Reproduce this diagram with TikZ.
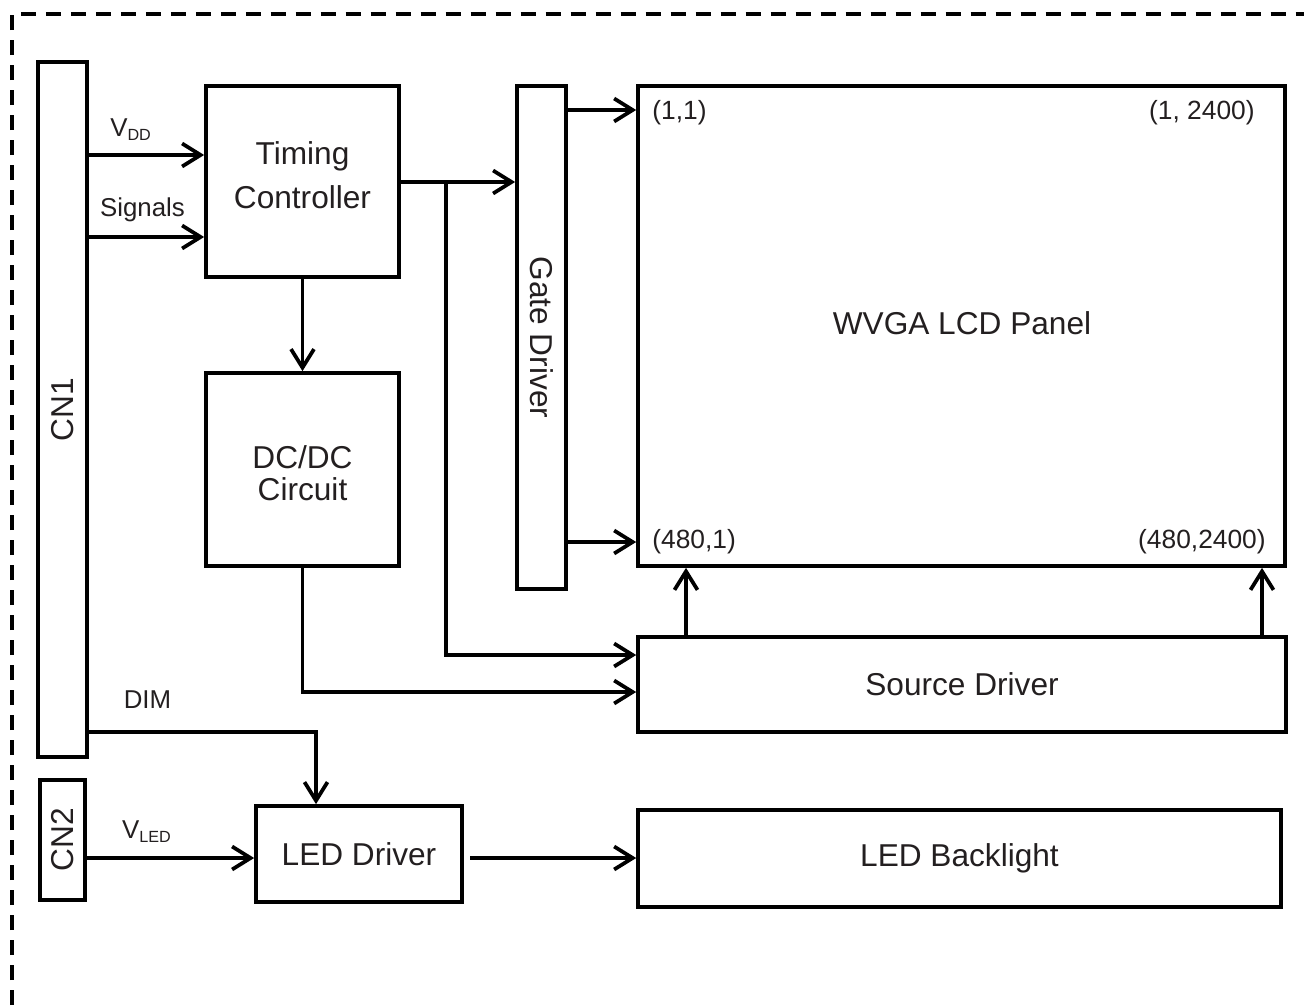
\documentclass[tikz,border=0pt]{standalone}
\usepackage{fontspec}
\setmainfont{Liberation Sans}
\usetikzlibrary{arrows.meta}
\definecolor{txt}{RGB}{35,31,32}
\begin{document}
\begin{tikzpicture}[x=0.02cm,y=-0.02cm,
  box/.style={draw=black,line width=0.075cm,inner sep=0pt,text=txt,font=\fontsize{18}{21.5}\selectfont,align=center},
  btxt/.style={text=txt,inner sep=0pt,font=\fontsize{18}{21.5}\selectfont,align=center},
  lbl/.style={text=txt,inner sep=0pt,font=\fontsize{14.7}{17}\selectfont},
  clbl/.style={text=txt,inner sep=0pt,font=\fontsize{15}{17}\selectfont},
  arr/.style={line width=0.075cm,-{Straight Barb[length=0.37cm,width=0.46cm,line width=0.075cm]}}]
\useasboundingbox (0,0) rectangle (1304,1007);
\clip (0,0) rectangle (1304,1007);
\draw[line width=0.075cm,dash pattern=on 0.3cm off 0.2cm] (12,1030) -- (12,14) -- (1330,14);

% boxes
\node[box,minimum width=0.98cm,minimum height=13.9cm] (cn1) at (62.5,409.5) {\rotatebox{90}{CN1}};
\node[box,minimum width=0.9cm,minimum height=2.4cm] (cn2) at (62.5,840) {\rotatebox{90}{CN2}};
\node[box,minimum width=3.86cm,minimum height=3.82cm] (tc) at (302.5,181.5) {};
\node[btxt] (tctext) at (302.5,175) {Timing\\[3.5pt]Controller};
\node[box,minimum width=3.86cm,minimum height=3.86cm] (dc) at (302.5,469.5) {};
\node[btxt,font=\fontsize{18}{18}\selectfont] (dctext) at (302.5,473) {DC/DC\\Circuit};
\node[box,minimum width=0.98cm,minimum height=10.06cm] (gd) at (541.5,337.5) {\rotatebox{-90}{Gate Driver}};
\node[box,minimum width=12.94cm,minimum height=9.6cm] (panel) at (961.5,326) {};
\node[btxt] (ptext) at (962,323) {WVGA LCD Panel};
\node[box,minimum width=12.96cm,minimum height=1.9cm] (sd) at (962,684.5) {Source Driver};
\node[box,minimum width=4.12cm,minimum height=1.92cm] (ledd) at (359,854) {LED Driver};
\node[box,minimum width=12.86cm,minimum height=1.94cm] (ledb) at (959.5,858.5) {LED Backlight};

% corner labels
\node[clbl,anchor=west] (c11) at (652,113) {(1,1)};
\node[clbl,anchor=east] (c12) at (1255,113) {(1, 2400)};
\node[clbl,anchor=west] (c21) at (652,542) {(480,1)};
\node[clbl,anchor=east] (c22) at (1266,542) {(480,2400)};

% signal labels
\node[lbl] (lvdd) at (131,130) {V\textsubscript{\fontsize{9.2}{10}\selectfont DD}};
\node[lbl] (lsig) at (142.5,210) {Signals};
\node[lbl] (ldim) at (147.5,700) {DIM};
\node[lbl] (lvled) at (147,832) {V\textsubscript{\fontsize{9.2}{10}\selectfont LED}};

% connectors
\draw[arr] (cn1.east |- 0,155) -- (tc.west |- 0,155);
\draw[arr] (cn1.east |- 0,237) -- (tc.west |- 0,237);
\draw[arr] (tc.south) -- (dc.north);
\draw[arr] (tc.east |- 0,182) -- (gd.west |- 0,182);
\coordinate (br) at (446,182);
\draw[arr] (br) |- (sd.west |- 0,655);
\draw[arr] (dc.south) |- (sd.west |- 0,692);
\draw[arr] (gd.east |- 0,110) -- (panel.west |- 0,110);
\draw[arr] (gd.east |- 0,542) -- (panel.west |- 0,542);
\draw[arr] (sd.north -| 686,0) -- (panel.south -| 686,0);
\draw[arr] (sd.north -| 1262,0) -- (panel.south -| 1262,0);
\draw[arr] (cn1.east |- 0,732) -| (ledd.north -| 316,0);
\draw[arr] (cn2.east |- 0,858) -- (ledd.west |- 0,858);
\coordinate (lo) at (470,858);
\draw[arr] (lo) -- (ledb.west |- lo);
\end{tikzpicture}
\end{document}
